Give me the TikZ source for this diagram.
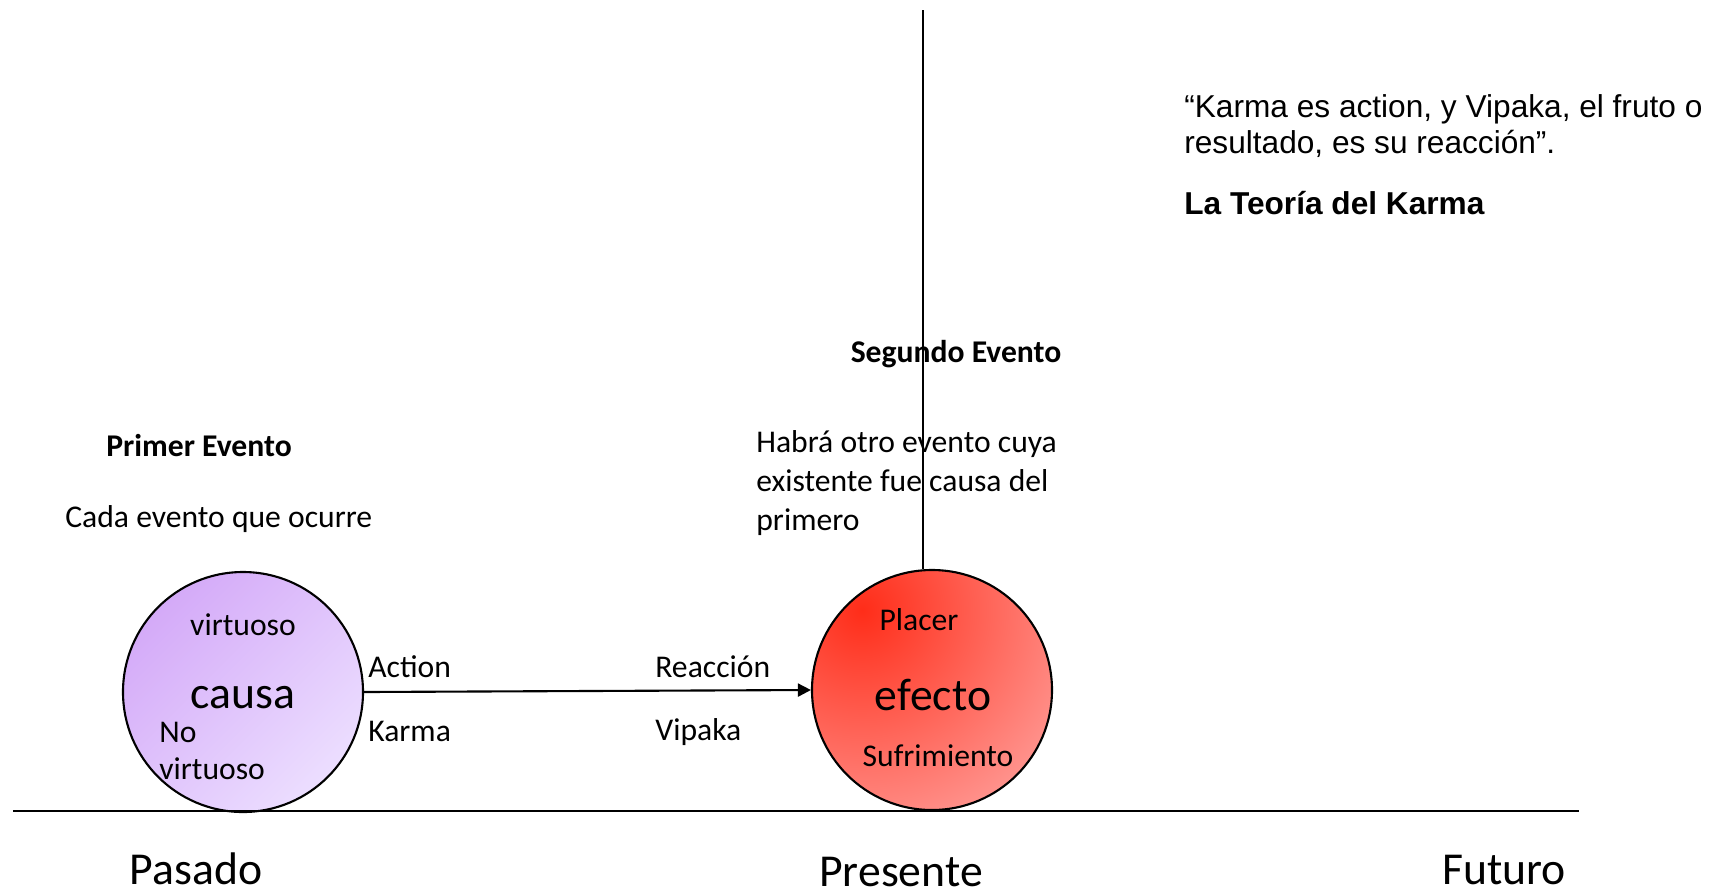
\documentclass[tikz,border=0pt]{standalone}
\usepackage{fontspec}
\setmainfont{Carlito}
\newfontfamily\arialfont{Liberation Sans}
\usetikzlibrary{arrows.meta}
\definecolor{causaviola}{RGB}{212,170,248}
\definecolor{causachiaro}{RGB}{236,222,255}
\definecolor{efrosso}{RGB}{255,45,25}
\definecolor{efrosa}{RGB}{255,188,188}

\begin{document}
\begin{tikzpicture}[x=0.2mm, y=-0.2mm,
    testo/.style={inner sep=0pt, font=\fontsize{18}{21.5}\selectfont},
    titolo/.style={inner sep=0pt, font=\fontsize{18}{21.5}\selectfont\bfseries},
    tempo/.style={inner sep=0pt, font=\fontsize{26}{31}\selectfont},
    evento/.style={draw, circle, line width=1.2pt, minimum size=48mm, inner sep=0pt}]
    \useasboundingbox (0,0) rectangle (1711,891);

    % Assi
    \coordinate (ejeizq) at (13,811);
    \coordinate (ejeder) at (1579,811);
    \coordinate (lineatop) at (923,10);

    % Nodi
    \node[evento, left color=causaviola, right color=causachiaro, shading angle=45] (causa) at (243,692) {};
    \node[evento, path picture={\shade[inner color=efrosso, outer color=efrosa]
      ([shift={(-70,-80)}]path picture bounding box.center) circle (64mm);}] (efecto) at (932,690) {};
    \node[tempo] (causatesto) at (243,698) {causa};
    \node[tempo] (efectotesto) at (933,695) {efecto};

    \node[titolo, anchor=west] (primer) at (106,446) {Primer Evento};
    \node[testo, anchor=west] (cada) at (65,519) {Cada evento que ocurre};
    \node[testo] (virt) at (243,625) {virtuoso};
    \node[testo, anchor=west, align=left] (novirt) at (159,751) {No\\virtuoso};
    \node[testo, anchor=west] (action) at (368,667) {Action};
    \node[testo, anchor=west] (karma) at (368,731) {Karma};
    \node[testo, anchor=west] (reaccion) at (655,667) {Reacción};
    \node[testo, anchor=west] (vipaka) at (655,732) {Vipaka};
    \node[testo] (placer) at (919,620) {Placer};
    \node[testo] (sufri) at (938,756) {Sufrimiento};
    \node[titolo] (segundo) at (956,354) {Segundo Evento};
    \node[testo, anchor=west, align=left, font=\fontsize{18}{22}\selectfont] (habra) at (756,483)
      {Habrá otro evento cuya\\existente fue causa del\\primero};
    \node[inner sep=0pt, anchor=west, align=left, font=\arialfont\fontsize{18}{20.5}\selectfont] (cita) at (1184,126)
      {“Karma es action, y Vipaka, el fruto o\\resultado, es su reacción”.};
    \node[inner sep=0pt, anchor=west, font=\arialfont\fontsize{18}{20.5}\selectfont\bfseries] (teoria) at (1184,203)
      {La Teoría del Karma};
    \node[tempo] (pasado) at (196,869) {Pasado};
    \node[tempo] (presente) at (901,872) {Presente};
    \node[tempo] (futuro) at (1504,870) {Futuro};

    % Archi
    \draw[line width=1.3pt] (ejeizq) -- (ejeder);
    \draw[line width=1.2pt] (lineatop) -- (efecto.north -| lineatop);
    \draw[line width=1.2pt, -{Triangle[length=2.6mm, width=2.6mm]}] (causa.east) -- (efecto.west);
  \end{tikzpicture}
\end{document}
